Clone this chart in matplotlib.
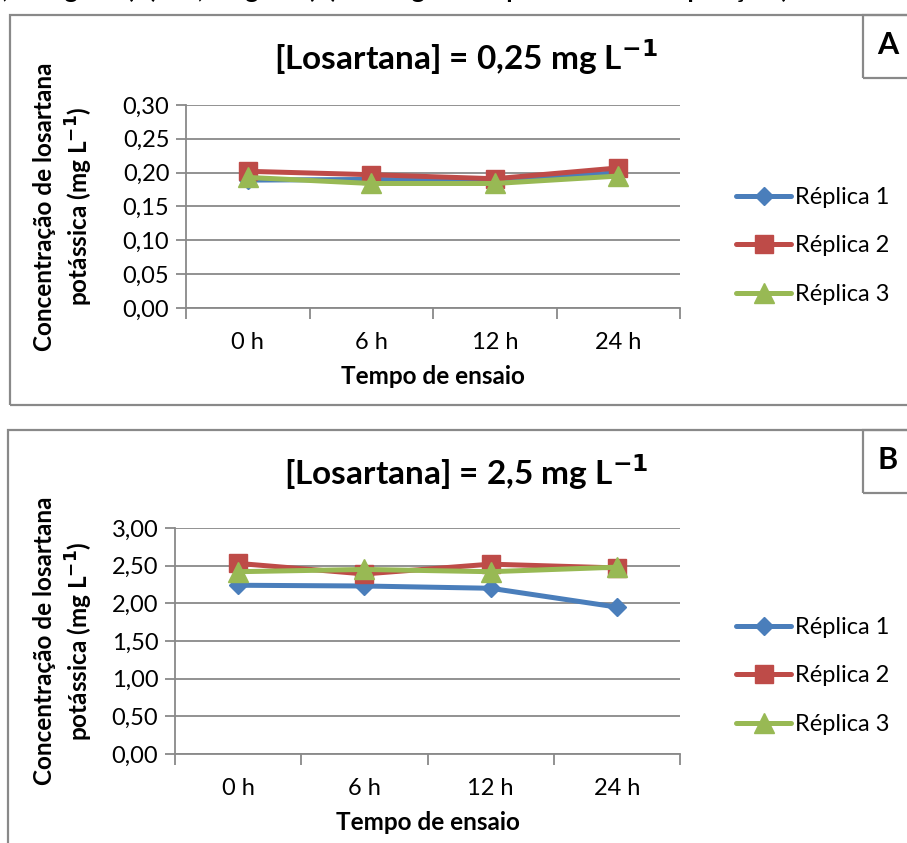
import matplotlib.pyplot as plt
from matplotlib.patches import Rectangle

plt.rcParams['font.family'] = ['Lato', 'DejaVu Sans']

# tempos de coleta
tempos = ["0 h", "6 h", "12 h", "24 h"]
replicas = ["Réplica 1", "Réplica 2", "Réplica 3"]

# [Losartana] = 0,25 mg/L
a_rep1 = [0.189, 0.190, 0.188, 0.200]
a_rep2 = [0.202, 0.197, 0.191, 0.207]
a_rep3 = [0.193, 0.184, 0.184, 0.195]

# [Losartana] = 2,5 mg/L
b_rep1 = [2.24, 2.23, 2.20, 1.95]
b_rep2 = [2.53, 2.39, 2.52, 2.47]
b_rep3 = [2.42, 2.45, 2.42, 2.48]

cores = ['#4A7EBB', '#BE4B48', '#98B954']
marcas = ['D', 's', '^']
tamanhos = [9.5, 13, 14]
cinza = '#898989'

W, H = 907, 843
fig = plt.figure(figsize=(W / 100, H / 100), dpi=100)


def px(x0, y0, x1, y1):
    # converte caixa em pixels (origem no topo) para fração da figura
    return [x0 / W, 1 - y1 / H, (x1 - x0) / W, (y1 - y0) / H]


def moldura(x0, y0, x1, y1):
    fig.patches.append(Rectangle((x0 / W, 1 - y1 / H), (x1 - x0) / W, (y1 - y0) / H,
                                 transform=fig.transFigure, fill=False,
                                 edgecolor=cinza, lw=1.6))


def painel(box, series, ymax, passo, fmt, titulo, letra, ytitulo, ylab_x, leg_y, top):
    ax = fig.add_axes(px(*box))
    x = range(len(tempos))
    for vals, cor, mk, ms, nome in zip(series, cores, marcas, tamanhos, replicas):
        ax.plot(x, vals, color=cor, lw=3.6, marker=mk, markersize=ms,
                markeredgecolor=cor, label=nome, solid_joinstyle='round',
                solid_capstyle='round')
    ax.set_xlim(-0.5, len(tempos) - 0.5)
    ax.set_ylim(0, ymax)
    yt = [i * passo for i in range(int(round(ymax / passo)) + 1)]
    ax.set_yticks(yt)
    ax.set_yticklabels([fmt.format(v).replace('.', ',') for v in yt], fontsize=17)
    ax.yaxis.grid(True, color=cinza, lw=1.3)
    ax.set_axisbelow(True)
    # marcas entre categorias, rótulos no centro
    ax.set_xticks([i - 0.5 for i in range(len(tempos) + 1)])
    ax.set_xticklabels([])
    ax.set_xticks(list(x), minor=True)
    ax.set_xticklabels(tempos, minor=True, fontsize=17)
    ax.tick_params(axis='x', which='major', length=8, width=1.3, color=cinza, direction='out')
    ax.tick_params(axis='x', which='minor', length=0, pad=17)
    ax.tick_params(axis='y', length=7, width=1.3, color=cinza, direction='out', pad=5)
    for s in ['top', 'right']:
        ax.spines[s].set_visible(False)
    for s in ['left', 'bottom']:
        ax.spines[s].set_color(cinza)
        ax.spines[s].set_linewidth(1.3)
    ax.set_xlabel("Tempo de ensaio", fontsize=17.5, fontweight='bold', labelpad=9)
    fig.text(ylab_x / W, 1 - (box[1] + box[3]) / 2 / H, ytitulo, rotation=90,
             ha='center', va='center', fontsize=17.5, fontweight='bold',
             linespacing=1.3)
    fig.text(466 / W, 1 - (top + 42) / H, titulo, ha='center', va='center',
             fontsize=24, fontweight='bold')
    fig.text(888 / W, 1 - (top + 30) / H, letra, ha='center', va='center',
             fontsize=22, fontweight='bold')
    ax.legend(loc='center left', bbox_to_anchor=(736 / W, 1 - leg_y / H),
              bbox_transform=fig.transFigure, frameon=False, fontsize=17,
              handlelength=2.35, handletextpad=0.15, labelspacing=1.16,
              borderaxespad=0, borderpad=0)
    return ax


ylab = "Concentração de losartana\npotássica (mg L$^{\\mathbf{-1}}$)"

# painel A
moldura(10, 15, 930, 405)
moldura(863, 15, 930, 78)
painel((186, 105, 680, 308), [a_rep1, a_rep2, a_rep3], 0.30, 0.05, "{:.2f}",
       "[Losartana] = 0,25 mg L$^{\\mathbf{-1}}$", "A", ylab, 64, 246, 15)

# painel B
moldura(8, 430, 930, 900)
moldura(863, 430, 930, 493)
painel((175, 528, 680, 754), [b_rep1, b_rep2, b_rep3], 3.0, 0.5, "{:.2f}",
       "[Losartana] = 2,5 mg L$^{\\mathbf{-1}}$", "B", ylab, 64, 676, 430)

# legenda da figura, cortada na borda superior
fig.text(-12 / W, 1 + 2 / H,
         "0,25 mg L-1 (A) e 2,5 mg L-1 (B) ao longo do experimento de exposição (e",
         ha='left', va='baseline', fontsize=18, fontweight='bold')

fig.savefig("out.png", dpi=100)
